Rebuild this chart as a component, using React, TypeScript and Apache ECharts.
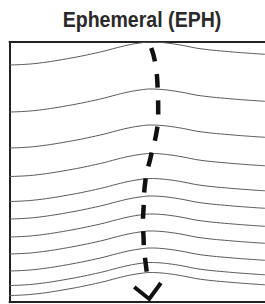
import React, { useEffect, useRef } from "react";
import * as echarts from "echarts";

const titleText = "Ephemeral (EPH)";

// x positions (px from box left edge) where each wavy line was sampled
const waveX = [0, 24, 58, 91, 108, 120, 132, 141, 150, 160, 173, 191, 224, 256];

// y values (px from box top) of each thin wavy line
const wave1 = [23, 21.7, 16.7, 10, 5.6, 2.8, 0.8, 0, 0.3, 1.3, 3.3, 6.7, 10, 12.3];
const wave2 = [70, 68.7, 63.7, 57, 52.6, 49.8, 47.8, 47, 47.3, 48.3, 50.3, 53.7, 57, 59.3];
const wave3 = [106, 104.7, 99.7, 93, 88.6, 85.8, 83.8, 83, 83.3, 84.3, 86.3, 89.7, 93, 95.3];
const wave4 = [134.5, 133.2, 128.2, 121.5, 117.1, 114.3, 112.3, 111.5, 111.8, 112.8, 114.8, 118.2, 121.5, 123.8];
const wave5 = [159.5, 158.2, 153.2, 146.5, 142.1, 139.3, 137.3, 136.5, 136.8, 137.8, 139.8, 143.2, 146.5, 148.8];
const wave6 = [177, 175.7, 170.7, 164, 159.6, 156.8, 154.8, 154, 154.3, 155.3, 157.3, 160.7, 164, 166.3];
const wave7 = [195, 193.7, 188.7, 182, 177.6, 174.8, 172.8, 172, 172.3, 173.3, 175.3, 178.7, 182, 184.3];
const wave8 = [212, 210.7, 205.7, 199, 194.6, 191.8, 189.8, 189, 189.3, 190.3, 192.3, 195.7, 199, 201.3];
const wave9 = [229, 227.7, 222.7, 216, 211.6, 208.8, 206.8, 206, 206.3, 207.3, 209.3, 212.7, 216, 218.3];
const wave10 = [243.5, 242.2, 237.2, 230.5, 226.1, 223.3, 221.3, 220.5, 220.8, 221.8, 223.8, 227.2, 230.5, 232.8];
const wave11 = [253.5, 252.2, 247.2, 240.5, 236.1, 233.3, 231.3, 230.5, 230.8, 231.8, 233.8, 237.2, 240.5, 242.8];
const waves = [wave1, wave2, wave3, wave4, wave5, wave6, wave7, wave8, wave9, wave10, wave11];

// dashed arrow path
const arrowX = [142, 146, 148.5, 149, 147.7, 141.7, 136, 134.3, 133.7, 134.3, 135, 138.3];
const arrowY = [6, 21, 48, 72, 88, 114, 140, 167, 181, 195, 209, 235];

// arrow head (chevron)
const headX = [125, 140, 151.7];
const headY = [245, 257, 241];

function frameLine() {
  return { show: true, onZero: false, lineStyle: { color: "#222", width: 2 } };
}
function hiddenBits() {
  return {
    axisTick: { show: false },
    axisLabel: { show: false },
    splitLine: { show: false },
  };
}

export default function App() {
  const ref = useRef<HTMLDivElement>(null);
  useEffect(() => {
    if (!ref.current) return;
    const chart = echarts.init(ref.current, undefined, { renderer: "svg" });
    const series: any[] = waves.map((w, i) => ({
      type: "line",
      name: "wave" + (i + 1),
      data: waveX.map((x, j) => [x, w[j]]),
      smooth: 0.4,
      showSymbol: false,
      symbol: "none",
      lineStyle: { color: "#5a5a5a", width: 1 },
      z: 2,
    }));
    series.push({
      type: "line",
      name: "arrow",
      data: arrowX.map((x, j) => [x, arrowY[j]]),
      smooth: 0.5,
      symbol: "none",
      lineStyle: { color: "#111", width: 4.5, type: [14, 12.5], cap: "butt" },
      z: 5,
    });
    series.push({
      type: "line",
      name: "head",
      data: headX.map((x, j) => [x, headY[j]]),
      symbol: "none",
      lineStyle: { color: "#111", width: 4, join: "miter", cap: "butt" },
      z: 5,
    });
    chart.setOption({
      animation: false,
      graphic: [
        {
          type: "text",
          x: 142,
          y: 19,
          scaleX: 0.89,
          style: {
            text: titleText,
            x: 0,
            y: 0,
            textAlign: "center",
            textVerticalAlign: "middle",
            fontFamily: "'Liberation Sans', Arial, sans-serif",
            fontWeight: "bold",
            fontSize: 22,
            fill: "#2a2a2a",
          },
        },
      ],
      grid: {
        left: 9.5,
        right: 0,
        top: 42,
        bottom: 2,
        show: false,
      },
      xAxis: [
        { type: "value", min: 0, max: 256, position: "bottom", axisLine: frameLine(), ...hiddenBits() },
        { type: "value", min: 0, max: 256, position: "top", axisLine: frameLine(), ...hiddenBits() },
      ],
      yAxis: {
        type: "value",
        min: 0,
        max: 260,
        inverse: true,
        position: "left",
        axisLine: frameLine(),
        ...hiddenBits(),
      },
      series,
    });
    return () => chart.dispose();
  }, []);
  return (
    <div
      ref={ref}
      style={{ position: "fixed", left: 0, top: 0, width: 265, height: 304, background: "#fff" }}
    />
  );
}
